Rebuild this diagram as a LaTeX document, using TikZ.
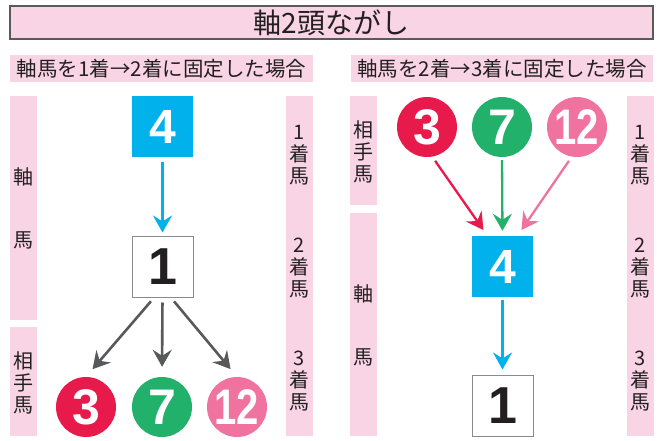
\documentclass[tikz,border=0pt]{standalone}
\usepackage{fontspec}
\setmainfont{Noto Sans CJK JP}
\newfontfamily\numfont{Liberation Sans}
\usetikzlibrary{arrows.meta,positioning}
\definecolor{bgpink}{HTML}{F9D4E4}
\definecolor{txt}{HTML}{231F20}
\definecolor{framegray}{HTML}{5A5A5A}
\definecolor{boxgray}{HTML}{8A8A8A}
\definecolor{argray}{HTML}{58595B}
\definecolor{axblue}{HTML}{00B1EB}
\definecolor{uma_red}{HTML}{E8194B}
\definecolor{uma_green}{HTML}{22B16B}
\definecolor{uma_pink}{HTML}{F0739F}
\newcommand{\narrownum}[1]{\scalebox{0.8}[1]{#1}}
\tikzset{
	head_t/.style = {rectangle, fill=bgpink, draw=framegray, line width=1.2pt,
		minimum width=643pt, minimum height=33pt, text=txt,
		font=\fontsize{28}{28}\selectfont},% title bar
	head_s/.style = {rectangle, fill=bgpink, minimum height=27pt, inner sep=0pt,
		text=txt, font=\fontsize{20.5}{20.5}\selectfont},% sub title
	side_v/.style = {align=center, inner sep=0pt, text=txt,
		font=\fontsize{20}{22}\selectfont},% vertical text in the side bars
	uma/.style = {inner sep=0pt, text centered,
		font=\numfont\bfseries\fontsize{48}{48}\selectfont},
	uma_b/.style = {uma, rectangle, text=white, fill=axblue,
		minimum size=61pt},% axis horse, blue box
	uma_w/.style = {uma, rectangle, text=txt, fill=white, draw=boxgray,
		line width=1pt, minimum size=61pt,
		font=\numfont\bfseries\fontsize{52}{52}\selectfont},% axis horse, white box
	uma_c/.style = {uma, circle, text=white, minimum size=60pt,
		font=\numfont\bfseries\fontsize{50}{50}\selectfont},% partner horse
	ar/.style = {-{Stealth[length=17pt,width=19pt,inset=6pt]}, line width=2.3pt}
}

\begin{document}
\begin{tikzpicture}[x=1pt,y=-1pt]
\useasboundingbox (0,0) rectangle (659,441);

% headings
\node [head_t] (title) at (331.5,22.5) {軸2頭ながし};
\node [head_s, minimum width=303pt] (sub_l) at (161.5,68.5) {軸馬を1着→2着に固定した場合};
\node [head_s, minimum width=302pt] (sub_r) at (502,68.5) {軸馬を2着→3着に固定した場合};

% side bars
\fill [bgpink] (10,96) rectangle (37,320);
\fill [bgpink] (10,327) rectangle (37,436);
\fill [bgpink] (286,96) rectangle (313,436);
\fill [bgpink] (350,96) rectangle (377,205);
\fill [bgpink] (350,213) rectangle (377,436);
\fill [bgpink] (627,96) rectangle (654,436);

\node [side_v] (l_jiku) at (23.5,177) {軸};
\node [side_v] (l_uma) at (23.5,240) {馬};
\node [side_v] (l_aite) at (23.5,383) {相\\手\\馬};
\node [side_v] (l_1st) at (299.5,155) {1\\着\\馬};
\node [side_v] (l_2nd) at (299.5,268) {2\\着\\馬};
\node [side_v] (l_3rd) at (299.5,381) {3\\着\\馬};

\node [side_v] (r_aite) at (363.5,152) {相\\手\\馬};
\node [side_v] (r_jiku) at (363.5,294) {軸};
\node [side_v] (r_uma) at (363.5,357) {馬};
\node [side_v] (r_1st) at (640.5,155) {1\\着\\馬};
\node [side_v] (r_2nd) at (640.5,268) {2\\着\\馬};
\node [side_v] (r_3rd) at (640.5,381) {3\\着\\馬};

% left: 4 -> 1 -> 3,7,12
\node [uma_b] (l_four) at (162.5,126.5) {4};
\node [uma_w] (l_one) at (162.5,266.5) {1};
\node [uma_c, fill=uma_red] (l_three) at (86,407) {3};
\node [uma_c, fill=uma_green] (l_seven) at (162,407) {7};
\node [uma_c, fill=uma_pink] (l_twelve) at (237,407) {\narrownum{12}};

\draw [ar, axblue, shorten <=5pt, shorten >=3pt] (l_four.south) -- (l_one.north);
\draw [ar, argray, line width=2.6pt, shorten <=5pt, shorten >=10pt] (l_one.-105) -- (l_three.north);
\draw [ar, argray, line width=2.6pt, shorten <=5pt, shorten >=10pt] (l_one.south) -- (l_seven.north);
\draw [ar, argray, line width=2.6pt, shorten <=5pt, shorten >=10pt] (l_one.-75) -- (l_twelve.north);

% right: 3,7,12 -> 4 -> 1
\node [uma_c, fill=uma_red] (r_three) at (427,127) {3};
\node [uma_c, fill=uma_green] (r_seven) at (502,127) {7};
\node [uma_c, fill=uma_pink] (r_twelve) at (577,127) {\narrownum{12}};
\node [uma_b] (r_four) at (502.5,266.5) {4};
\node [uma_w] (r_one) at (502.5,405.5) {1};

\draw [ar, uma_red, shorten <=5pt, shorten >=7pt] (r_three.-80) -- ([xshift=-15pt]r_four.north);
\draw [ar, uma_green, shorten <=3pt, shorten >=5pt] (r_seven.south) -- (r_four.north);
\draw [ar, uma_pink, shorten <=5pt, shorten >=7pt] (r_twelve.-100) -- ([xshift=15pt]r_four.north);
\draw [ar, axblue, shorten <=3pt, shorten >=5pt] (r_four.south) -- (r_one.north);
\end{tikzpicture}
\end{document}
